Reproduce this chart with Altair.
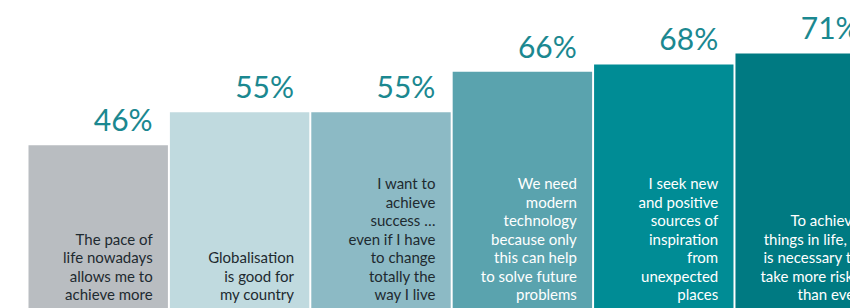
import altair as alt
import pandas as pd

labels = [
    "The pace of\nlife nowadays\nallows me to\nachieve more",
    "Globalisation\nis good for\nmy country",
    "I want to\nachieve\nsuccess …\neven if I have\nto change\ntotally the\nway I live",
    "We need\nmodern\ntechnology\nbecause only\nthis can help\nto solve future\nproblems",
    "I seek new\nand positive\nsources of\ninspiration\nfrom\nunexpected\nplaces",
    "To achieve\nthings in life, it\nis necessary to\ntake more risks\nthan ever",
]
values = [46, 55, 55, 66, 68, 71]
bar_colors = ["#b9bdc1", "#c0dadf", "#8cbac5", "#5aa3ae", "#008c95", "#007a82"]
label_colors = ["#1e2a30", "#1e2a30", "#1e2a30", "#ffffff", "#ffffff", "#ffffff"]

LINE_H = 18.5
LAST_LINE_Y = 287

df = pd.DataFrame({
    "idx": list(range(len(values))),
    "label": labels,
    "value": values,
    "pct": [f"{v}%" for v in values],
    "barcolor": bar_colors,
    "labcolor": label_colors,
})
df["x0"] = df["idx"]
df["x1"] = df["idx"] + 0.986
df["xt"] = df["idx"] + 0.878
df["ty"] = [LAST_LINE_Y - (s.count("\n")) * LINE_H for s in labels]

xs = alt.Scale(domain=[-0.145, 5.81], nice=False, zero=False)
ys = alt.Scale(domain=[1.63, 83.4], nice=False, zero=False)

base = alt.Chart(df)

bars = base.mark_bar(clip=True).encode(
    x=alt.X("x0:Q", scale=xs, axis=None),
    x2="x1:Q",
    y=alt.Y("value:Q", scale=ys, axis=None),
    y2=alt.datum(0),
    color=alt.Color("barcolor:N", scale=None, legend=None),
)

pct = base.mark_text(
    align="right", baseline="alphabetic", dy=-14, fontSize=30,
    font="Lato", color="#1b8890"
).encode(
    x=alt.X("xt:Q", scale=xs, axis=None),
    y=alt.Y("value:Q", scale=ys, axis=None),
    text="pct:N",
)

cat = base.mark_text(
    align="right", baseline="middle", fontSize=15, font="Lato",
    lineBreak="\n", lineHeight=LINE_H
).encode(
    x=alt.X("xt:Q", scale=xs, axis=None),
    y=alt.Y("ty:Q", scale=None, axis=None),
    text="label:N",
    color=alt.Color("labcolor:N", scale=None, legend=None),
)

chart = alt.layer(bars, pct, cat).properties(
    width=842, height=300, padding=0, autosize="none"
).configure_view(stroke=None)

chart.save("out.html", embed_options={"renderer": "svg", "actions": False})
